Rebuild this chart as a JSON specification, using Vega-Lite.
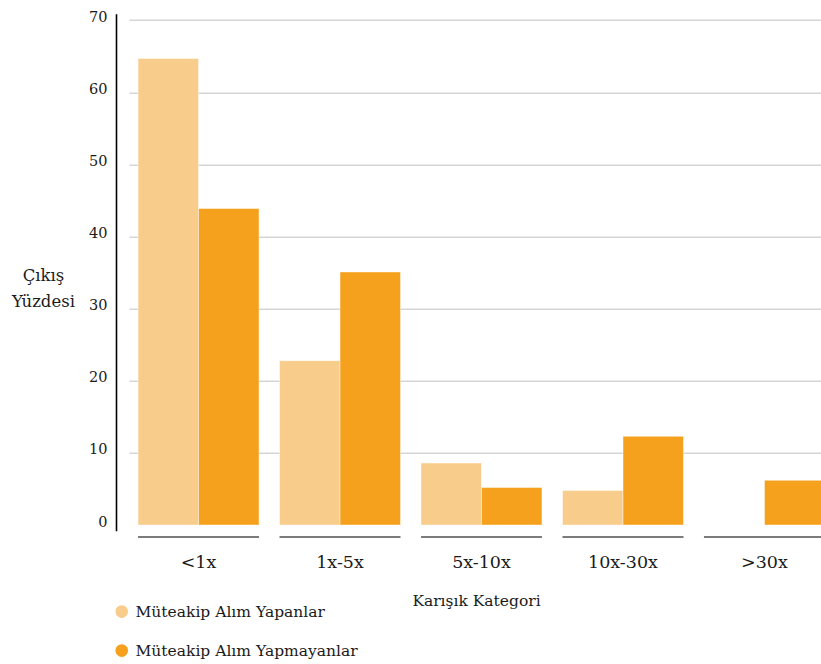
{
  "$schema": "https://vega.github.io/schema/vega-lite/v6.json",
  "width": 692,
  "height": 517,
  "autosize": {"type": "none"},
  "padding": {"left": 129, "top": 13.8, "right": 0, "bottom": 133.2},
  "config": {
    "font": "DejaVu Serif",
    "axis": {"labelFont": "DejaVu Serif", "titleFont": "DejaVu Serif"},
    "legend": {"labelFont": "DejaVu Serif"},
    "view": {"stroke": null}
  },
  "data": {
    "values": [
      {"kategori": "<1x", "grup": "Müteakip Alım Yapanlar", "yuzde": 64.7},
      {"kategori": "<1x", "grup": "Müteakip Alım Yapmayanlar", "yuzde": 43.9},
      {"kategori": "1x-5x", "grup": "Müteakip Alım Yapanlar", "yuzde": 22.8},
      {"kategori": "1x-5x", "grup": "Müteakip Alım Yapmayanlar", "yuzde": 35.1},
      {"kategori": "5x-10x", "grup": "Müteakip Alım Yapanlar", "yuzde": 8.6},
      {"kategori": "5x-10x", "grup": "Müteakip Alım Yapmayanlar", "yuzde": 5.2},
      {"kategori": "10x-30x", "grup": "Müteakip Alım Yapanlar", "yuzde": 4.8},
      {"kategori": "10x-30x", "grup": "Müteakip Alım Yapmayanlar", "yuzde": 12.3},
      {"kategori": ">30x", "grup": "Müteakip Alım Yapmayanlar", "yuzde": 6.2}
    ]
  },
  "layer": [
    {
      "mark": {"type": "bar", "stroke": "white", "strokeOpacity": 0.45, "strokeWidth": 1},
      "encoding": {
        "x": {
          "field": "kategori",
          "type": "nominal",
          "sort": ["<1x", "1x-5x", "5x-10x", "10x-30x", ">30x"],
          "scale": {"range": [0, 705], "paddingInner": 0.145, "paddingOuter": 0.064},
          "title": "Karışık Kategori",
          "axis": {
            "domain": false,
            "ticks": false,
            "tickSize": 0,
            "labelAngle": 0,
            "labelFontSize": 17.5,
            "labelBaseline": "alphabetic",
            "labelPadding": 37,
            "labelColor": "#1a1a1a",
            "titleFontSize": 15.5,
            "titleFontWeight": "normal",
            "titleColor": "#1a1a1a",
            "titleX": 347,
            "titleAlign": "center",
            "titleY": 75,
            "titleBaseline": "alphabetic"
          }
        },
        "xOffset": {
          "field": "grup",
          "type": "nominal",
          "sort": ["Müteakip Alım Yapanlar", "Müteakip Alım Yapmayanlar"]
        },
        "y": {
          "field": "yuzde",
          "type": "quantitative",
          "scale": {"domain": [-0.8, 70.9], "nice": false},
          "axis": {
            "values": [0, 10, 20, 30, 40, 50, 60, 70],
            "offset": 13,
            "domainColor": "#000",
            "domainWidth": 1.6,
            "ticks": false,
            "tickSize": 0,
            "labelPadding": 9,
            "labelFontSize": 14.5,
            "labelColor": "#1a1a1a",
            "labelOffset": -3,
            "gridColor": "#D5D5D5",
            "gridWidth": 1.5,
            "gridOpacity": {"condition": {"test": "datum.value === 0", "value": 0}, "value": 1},
            "title": ["Çıkış", "Yüzdesi"],
            "titleAngle": 0,
            "titleAlign": "center",
            "titleBaseline": "alphabetic",
            "titleX": -73,
            "titleY": 267,
            "titleFontSize": 16.5,
            "titleFontWeight": "normal",
            "titleColor": "#1a1a1a",
            "titleLineHeight": 26
          }
        },
        "y2": {"datum": 0},
        "color": {
          "field": "grup",
          "type": "nominal",
          "scale": {
            "domain": ["Müteakip Alım Yapanlar", "Müteakip Alım Yapmayanlar"],
            "range": ["#F8CD8C", "#F5A11D"]
          },
          "legend": {
            "orient": "none",
            "legendX": -15,
            "legendY": 590,
            "title": null,
            "symbolType": "circle",
            "symbolSize": 160,
            "symbolStrokeWidth": 0,
            "labelFontSize": 15.5,
            "labelOffset": 6,
            "labelLimit": 400,
            "labelColor": "#1a1a1a",
            "rowPadding": 22
          }
        }
      }
    },
    {
      "transform": [{"aggregate": [{"op": "count", "as": "n"}], "groupby": ["kategori"]}],
      "mark": {"type": "tick", "size": 121, "thickness": 2, "color": "#444"},
      "encoding": {
        "x": {"field": "kategori", "type": "nominal", "sort": ["<1x", "1x-5x", "5x-10x", "10x-30x", ">30x"]},
        "y": {"datum": -1.66}
      }
    }
  ]
}
